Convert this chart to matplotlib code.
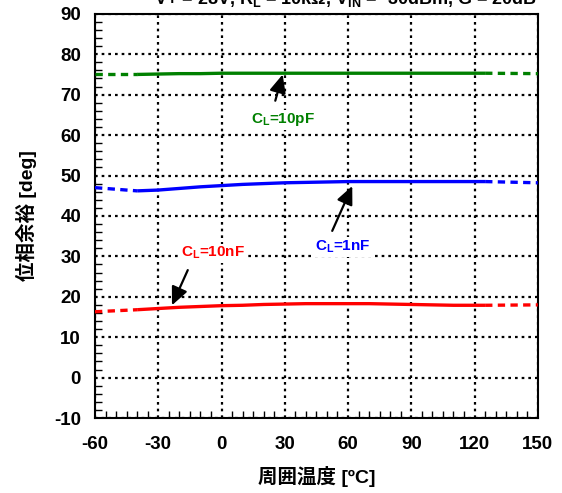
import matplotlib
matplotlib.use("Agg")
import matplotlib.pyplot as plt
from matplotlib.ticker import MultipleLocator

plt.rcParams["font.family"] = ["Liberation Sans", "Noto Sans CJK JP"]
plt.rcParams["font.weight"] = "bold"
plt.rcParams["mathtext.default"] = "regular"
plt.rcParams["axes.unicode_minus"] = False

# measured range (solid) and extrapolated ends (dashed)
temp = [-40, -30, -20, -10, 0, 10, 20, 30, 40, 50, 60, 70, 80, 90, 100, 110, 120, 125]
pm_10pF = [75.0, 75.1, 75.2, 75.2, 75.3, 75.3, 75.3, 75.3, 75.3, 75.3, 75.3, 75.3, 75.3, 75.3, 75.3, 75.3, 75.3, 75.3]
pm_1nF = [46.2, 46.4, 46.8, 47.2, 47.5, 47.8, 48.0, 48.2, 48.3, 48.4, 48.5, 48.5, 48.5, 48.5, 48.5, 48.5, 48.5, 48.5]
pm_10nF = [16.8, 17.1, 17.4, 17.6, 17.8, 17.9, 18.1, 18.2, 18.3, 18.3, 18.3, 18.3, 18.2, 18.1, 18.0, 17.9, 17.9, 17.9]

temp_lo = [-60, -40]
temp_hi = [125, 150]
lo_10pF, hi_10pF = [75.0, 75.0], [75.3, 75.2]
lo_1nF, hi_1nF = [47.0, 46.2], [48.5, 48.2]
lo_10nF, hi_10nF = [16.3, 16.8], [17.9, 18.0]

series = [
    ("#008000", pm_10pF, lo_10pF, hi_10pF),
    ("#0000ff", pm_1nF, lo_1nF, hi_1nF),
    ("#ff0000", pm_10nF, lo_10nF, hi_10nF),
]

# label text, text position, arrow tip, arrow tail
labels = [
    ("C$_L$=10pF", "#008000", (29, 63.8), (29.0, 75.0), (25.5, 68.5)),
    ("C$_L$=1nF", "#0000ff", (57.5, 32.3), (62.0, 47.4), (52.5, 36.3)),
    ("C$_L$=10nF", "#ff0000", (-4, 30.8), (-23.5, 17.9), (-16.0, 26.6)),
]

fig = plt.figure(figsize=(5.62, 4.93), dpi=100)
ax = fig.add_axes([0.169, 0.152, 0.788, 0.820])

for color, y, ylo, yhi in series:
    ax.plot(temp, y, color=color, lw=2.4, solid_capstyle="butt", zorder=3)
    ax.plot(temp_lo, ylo, color=color, lw=2.4, dashes=(2.2, 1.6), zorder=3)
    ax.plot(temp_hi, yhi, color=color, lw=2.4, dashes=(2.2, 1.6), zorder=3)

for text, color, tpos, tip, tail in labels:
    ax.annotate("", xy=tip, xytext=tail,
                arrowprops=dict(arrowstyle="-|>,head_length=1.1,head_width=0.5",
                                color="black", lw=1.6, shrinkA=0, shrinkB=0),
                zorder=4)
    ax.text(tpos[0], tpos[1], text, color=color, fontsize=11, fontweight="bold",
            ha="center", va="center", zorder=5,
            bbox=dict(facecolor="white", edgecolor="none", pad=1.0))

ax.set_xlim(-60, 150)
ax.set_ylim(-10, 90)
ax.xaxis.set_major_locator(MultipleLocator(30))
ax.xaxis.set_minor_locator(MultipleLocator(5))
ax.yaxis.set_major_locator(MultipleLocator(10))
ax.yaxis.set_minor_locator(MultipleLocator(2))
ax.tick_params(which="both", direction="in", top=False, right=False)
ax.tick_params(which="major", length=0, pad=13, labelsize=13.5)
ax.tick_params(axis="y", which="major", pad=10)
ax.tick_params(which="minor", length=5, width=1)
ax.grid(True, which="major", color="black", lw=1.6, dashes=(1.2, 1.8))
for s in ax.spines.values():
    s.set_linewidth(1.5)

ax.set_xlabel("周囲温度 [ºC]", fontsize=14, fontweight="bold", labelpad=9)
ax.set_ylabel("位相余裕 [deg]", fontsize=14, fontweight="bold", labelpad=12)

fig.text(0.615, 0.992, "V+ = 28V, R$_L$ = 10kΩ, V$_{IN}$ = -30dBm, G = 20dB",
         ha="center", va="baseline", fontsize=13, fontweight="bold")

fig.savefig("out.png", dpi=100)
